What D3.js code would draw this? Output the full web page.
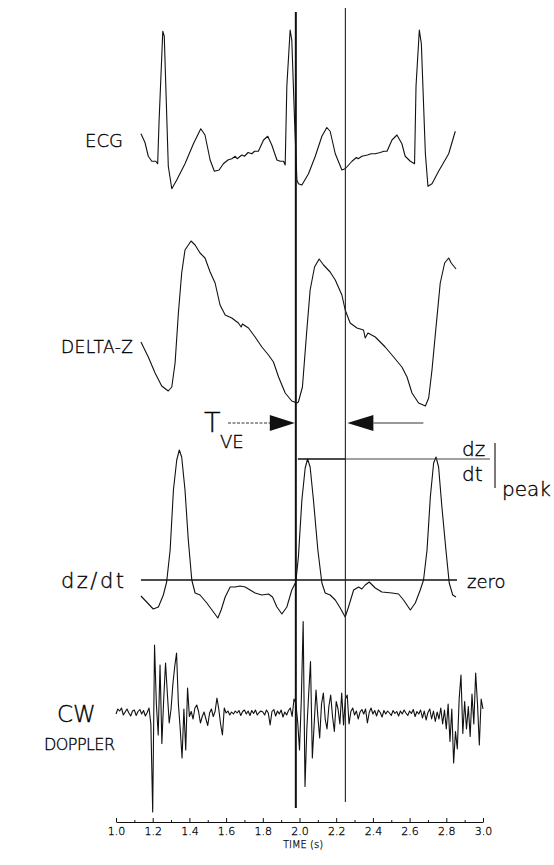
<!DOCTYPE html>
<html>
<head>
<meta charset="utf-8">
<script src="https://cdn.jsdelivr.net/npm/d3@7"></script>
<style>
  body { margin: 0; background: #fff; }
  svg { display: block; }
  text { font-family: "DejaVu Sans", "Liberation Sans", sans-serif; font-weight: 200; fill: #000; stroke: #000; stroke-width: 0.35; }
  .trace { fill: none; stroke: #111; stroke-width: 1.1; stroke-linejoin: round; }
  .axis path, .axis line { stroke: #111; }
  .axis text { font-family: "DejaVu Sans", sans-serif; font-size: 11px; font-weight: 200; fill: #000; stroke: #000; stroke-width: 0.3; }
</style>
</head>
<body>
<div id="chart"></div>
<script>

// Data ////////////////////////////////////

// [time (s), amplitude]
const ecg = [
    [1.136, 0.21], [1.158, 0.14], [1.176, 0.03], [1.195, -0.01], [1.217, -0.01], [1.227, -0.03],
    [1.235, 0.32], [1.255, 1.03], [1.263, 0.99], [1.285, -0.05], [1.304, -0.23], [1.331, -0.16],
    [1.376, -0.03], [1.422, 0.13], [1.462, 0.25], [1.485, 0.20], [1.513, 0.00], [1.536, -0.09],
    [1.562, -0.08], [1.585, -0.03], [1.610, 0.00], [1.631, 0.01], [1.650, 0.03], [1.660, 0.01],
    [1.686, 0.04], [1.700, 0.03], [1.720, 0.06], [1.740, 0.05], [1.755, 0.07], [1.776, 0.07],
    [1.804, 0.16], [1.827, 0.19], [1.849, 0.12], [1.877, 0.00], [1.895, -0.01], [1.913, -0.01],
    [1.922, -0.04], [1.931, 0.59], [1.949, 1.04], [1.958, 0.96], [1.973, 0.32], [1.986, -0.16],
    [1.994, -0.19], [2.013, -0.20], [2.049, -0.11], [2.086, 0.03], [2.122, 0.19], [2.149, 0.26],
    [2.167, 0.23], [2.195, 0.05], [2.231, -0.08], [2.249, -0.07], [2.286, -0.01], [2.310, 0.02],
    [2.320, 0.01], [2.340, 0.03], [2.370, 0.04], [2.390, 0.05], [2.413, 0.05], [2.440, 0.06],
    [2.460, 0.07], [2.477, 0.07], [2.504, 0.16], [2.531, 0.20], [2.558, 0.13], [2.576, 0.03],
    [2.604, -0.01], [2.627, -0.03], [2.635, 0.59], [2.653, 1.04], [2.664, 0.93], [2.686, 0.05],
    [2.700, -0.21], [2.722, -0.19], [2.758, -0.09], [2.813, 0.05], [2.849, 0.23]
];

const deltaZ = [
    [1.136, 0.58], [1.176, 0.43], [1.213, 0.27], [1.249, 0.14], [1.285, 0.09], [1.304, 0.13],
    [1.322, 0.37], [1.340, 0.87], [1.358, 1.27], [1.376, 1.50], [1.409, 1.59], [1.431, 1.55],
    [1.458, 1.47], [1.485, 1.42], [1.513, 1.28], [1.540, 1.17], [1.567, 0.95], [1.595, 0.85],
    [1.631, 0.82], [1.667, 0.77], [1.682, 0.73], [1.689, 0.76], [1.722, 0.72], [1.758, 0.63],
    [1.795, 0.53], [1.831, 0.45], [1.858, 0.38], [1.886, 0.23], [1.922, 0.07], [1.958, -0.01],
    [1.986, -0.03], [1.994, -0.02], [2.016, 0.13], [2.040, 0.70], [2.058, 1.10], [2.082, 1.33],
    [2.107, 1.41], [2.131, 1.35], [2.167, 1.28], [2.195, 1.20], [2.231, 1.05], [2.249, 0.90],
    [2.276, 0.77], [2.313, 0.72], [2.349, 0.70], [2.358, 0.62], [2.373, 0.67], [2.413, 0.63],
    [2.467, 0.53], [2.513, 0.43], [2.558, 0.33], [2.586, 0.23], [2.613, 0.07], [2.649, -0.03],
    [2.686, -0.06], [2.704, 0.02], [2.722, 0.30], [2.744, 0.73], [2.767, 1.17], [2.791, 1.37],
    [2.813, 1.42], [2.827, 1.37], [2.853, 1.31]
];

const dzdt = [
    [1.136, -0.16], [1.167, -0.22], [1.203, -0.29], [1.231, -0.27], [1.258, -0.15], [1.276, -0.02],
    [1.295, 0.30], [1.313, 0.90], [1.331, 1.20], [1.345, 1.30], [1.358, 1.23], [1.376, 0.90],
    [1.394, 0.40], [1.413, 0.00], [1.431, -0.13], [1.458, -0.15], [1.495, -0.23], [1.531, -0.32],
    [1.555, -0.38], [1.573, -0.30], [1.595, -0.17], [1.622, -0.07], [1.649, -0.07], [1.676, -0.06],
    [1.704, -0.07], [1.731, -0.10], [1.758, -0.13], [1.795, -0.15], [1.831, -0.14], [1.853, -0.17],
    [1.877, -0.27], [1.904, -0.34], [1.931, -0.27], [1.958, -0.10], [1.980, -0.02], [1.994, 0.23],
    [2.013, 0.80], [2.031, 1.12], [2.044, 1.21], [2.058, 1.13], [2.076, 0.80], [2.100, 0.30],
    [2.122, -0.03], [2.140, -0.13], [2.167, -0.15], [2.195, -0.20], [2.222, -0.28], [2.249, -0.37],
    [2.267, -0.27], [2.295, -0.10], [2.322, -0.07], [2.340, -0.09], [2.358, -0.05], [2.380, -0.02],
    [2.413, -0.08], [2.449, -0.12], [2.504, -0.13], [2.540, -0.14], [2.567, -0.20], [2.604, -0.30],
    [2.631, -0.23], [2.658, -0.10], [2.676, 0.00], [2.695, 0.30], [2.713, 0.83], [2.731, 1.17],
    [2.744, 1.23], [2.758, 1.13], [2.776, 0.73], [2.798, 0.30], [2.816, -0.03], [2.835, -0.15],
    [2.853, -0.17]
];

// CW Doppler, sampled every 10 ms from 1.00 s to 3.00 s
const dopplerStart = 1.0;
const dopplerStep = 0.01;
const doppler = [
    0.00, 0.10, 0.06, 0.12, -0.02, 0.04, 0.10, 0.02, -0.04, 0.06,   // 1.00
    0.08, -0.03, 0.05, 0.09, 0.00, 0.07, -0.04, 0.03, 0.12, -0.20,  // 1.10
    -1.96, 1.38, 0.20, -0.42, 0.98, -0.59, 0.30, 1.02, 0.40, -0.18, // 1.20
    0.10, 0.60, 0.95, 1.22, 0.20, -0.30, -0.88, 0.10, -0.72, 0.52,  // 1.30
    -0.05, 0.05, -0.10, 0.12, 0.18, 0.05, -0.18, -0.05, 0.04, -0.10, // 1.40
    -0.23, 0.02, 0.10, -0.05, 0.05, 0.32, 0.10, -0.20, -0.42, 0.12, // 1.50
    0.02, 0.06, -0.02, 0.04, 0.00, 0.06, 0.02, 0.07, -0.03, 0.05,   // 1.60
    0.08, 0.00, 0.06, -0.03, 0.07, 0.01, 0.08, -0.02, 0.03, 0.06,   // 1.70
    0.04, -0.02, 0.08, 0.02, -0.22, 0.05, 0.09, -0.04, 0.06, 0.00,  // 1.80
    0.08, -0.06, 0.04, -0.02, 0.07, 0.12, -0.05, 0.30, 0.22, -0.15, // 1.90
    -0.72, 0.30, 1.85, -1.45, -0.30, 0.40, 1.05, -0.88, -0.20, 0.48, // 2.00
    -0.05, -0.48, 0.20, 0.42, -0.10, -0.30, 0.15, 0.38, -0.05, -0.35, // 2.10
    0.25, 0.10, -0.20, 0.42, -0.22, 0.30, 0.38, -0.20, 0.05, 0.12,  // 2.20
    -0.02, 0.06, -0.10, 0.04, 0.09, 0.00, 0.10, -0.18, 0.03, 0.12,  // 2.30
    0.00, 0.07, -0.04, 0.08, 0.03, -0.06, 0.07, 0.00, 0.06, 0.02,   // 2.40
    -0.03, 0.07, 0.01, 0.05, -0.04, 0.06, 0.00, 0.08, 0.02, -0.03,  // 2.50
    0.06, 0.01, 0.09, -0.05, 0.05, 0.00, 0.08, -0.08, 0.06, -0.12,  // 2.60
    0.03, 0.10, -0.10, 0.06, -0.15, 0.04, -0.10, 0.12, -0.20, 0.08, // 2.70
    -0.30, 0.20, -0.55, 0.10, -0.98, -0.35, -0.70, 0.30, 0.78, -0.39, // 2.80
    0.25, -0.30, 0.15, -0.45, 0.40, -0.20, 0.82, 0.20, -0.62, 0.30, // 2.90
    0.10                                                           // 3.00
];

// Marker lines (s) and dz/dt peak level
const markerTimes = [1.98, 2.25];
const dzdtPeak = 1.21;

const timeTicks = [1.0, 1.2, 1.4, 1.6, 1.8, 2.0, 2.2, 2.4, 2.6, 2.8, 3.0];
const timeMinorTicks = [1.1, 1.3, 1.5, 1.7, 1.9, 2.1, 2.3, 2.5, 2.7, 2.9];

// Chart ////////////////////////////////////

const width = 554, height = 865;

const svg = d3.select("#chart").append("svg")
    .attr("width", width)
    .attr("height", height);

const x = d3.scaleLinear().domain([1, 3]).range([116, 483]);

const yEcg = d3.scaleLinear().domain([0, 1]).range([160, 35]);
const yDz = d3.scaleLinear().domain([0, 1]).range([400, 300]);
const yDzdt = d3.scaleLinear().domain([0, 1]).range([580, 480]);
const yDop = d3.scaleLinear().domain([0, 1]).range([714, 664]);

const dopplerPts = doppler.map((v, i) => [dopplerStart + i * dopplerStep, v]);

function addTrace(data, y) {
    svg.append("path")
        .datum(data)
        .attr("class", "trace")
        .attr("d", d3.line().x(d => x(d[0])).y(d => y(d[1])));
}

addTrace(ecg, yEcg);
addTrace(deltaZ, yDz);
addTrace(dzdt, yDzdt);
addTrace(dopplerPts, yDop);

// Reference lines

const x0 = x(markerTimes[0]), x1 = x(markerTimes[1]);

svg.append("line")
    .attr("x1", x(dzdt[0][0])).attr("x2", x(dzdt[dzdt.length - 1][0]) + 1)
    .attr("y1", yDzdt(0)).attr("y2", yDzdt(0))
    .attr("stroke", "#111").attr("stroke-width", 1.3);

svg.append("line")
    .attr("x1", x0 + 2).attr("x2", x1)
    .attr("y1", yDzdt(dzdtPeak)).attr("y2", yDzdt(dzdtPeak))
    .attr("stroke", "#111").attr("stroke-width", 1.5);

svg.append("line")
    .attr("x1", x1).attr("x2", 490)
    .attr("y1", yDzdt(dzdtPeak)).attr("y2", yDzdt(dzdtPeak))
    .attr("stroke", "#444").attr("stroke-width", 1);

svg.append("line")
    .attr("x1", x0).attr("x2", x0)
    .attr("y1", 12).attr("y2", 808)
    .attr("stroke", "#111").attr("stroke-width", 2);

svg.append("line")
    .attr("x1", x1).attr("x2", x1)
    .attr("y1", 8).attr("y2", 802)
    .attr("stroke", "#222").attr("stroke-width", 1.1);

// T_VE arrows

const arrowY = 423;

svg.append("line")
    .attr("x1", 228).attr("x2", x0 - 25)
    .attr("y1", arrowY).attr("y2", arrowY)
    .attr("stroke", "#333").attr("stroke-width", 1)
    .attr("stroke-dasharray", "3,1.5");

svg.append("path")
    .attr("d", `M${x0 - 1},${arrowY} L${x0 - 26},${arrowY - 8} L${x0 - 26},${arrowY + 8} Z`)
    .attr("fill", "#111");

svg.append("path")
    .attr("d", `M${x1 + 2},${arrowY} L${x1 + 28},${arrowY - 8} L${x1 + 28},${arrowY + 8} Z`)
    .attr("fill", "#111");

svg.append("line")
    .attr("x1", x1 + 28).attr("x2", x1 + 78)
    .attr("y1", arrowY).attr("y2", arrowY)
    .attr("stroke", "#333").attr("stroke-width", 1);

// Labels

function label(txt, xPos, yPos, size, len, anchor = "start") {
    const t = svg.append("text")
        .attr("x", xPos).attr("y", yPos)
        .attr("text-anchor", anchor)
        .style("font-size", size + "px")
        .text(txt);
    if (len) t.attr("textLength", len).attr("lengthAdjust", "spacing");
    return t;
}

label("ECG", 123, 147, 18, null, "end");
label("DELTA-Z", 61, 353, 17, 72);
label("dz/dt", 61, 588, 21, 63);
label("zero", 467, 588, 18);
label("CW", 57, 722, 23);
label("DOPPLER", 44, 750, 16, 71);

label("T", 204, 432, 27);
label("VE", 220, 448, 18);

label("dz", 462, 456, 20);
label("dt", 462, 481, 20);
label("peak", 502, 496, 20);

svg.append("line")
    .attr("x1", 495).attr("x2", 495)
    .attr("y1", 443).attr("y2", 488)
    .attr("stroke", "#222").attr("stroke-width", 1.2);

// Axis

const axisY = 822;

svg.append("g")
    .attr("class", "axis")
    .attr("transform", `translate(0,${axisY})`)
    .call(d3.axisBottom(x)
        .tickValues(timeTicks)
        .tickFormat(d3.format(".1f"))
        .tickSizeInner(-4)
        .tickSizeOuter(0)
        .tickPadding(5));

svg.append("g")
    .attr("class", "axis")
    .attr("transform", `translate(0,${axisY})`)
    .call(d3.axisBottom(x)
        .tickValues(timeMinorTicks)
        .tickFormat("")
        .tickSizeInner(-2)
        .tickSizeOuter(0))
    .select(".domain").remove();

svg.append("text")
    .attr("x", 303).attr("y", 848)
    .attr("text-anchor", "middle")
    .style("font-size", "10px")
    .style("stroke-width", 0.25)
    .text("TIME (s)");

</script>
</body>
</html>
